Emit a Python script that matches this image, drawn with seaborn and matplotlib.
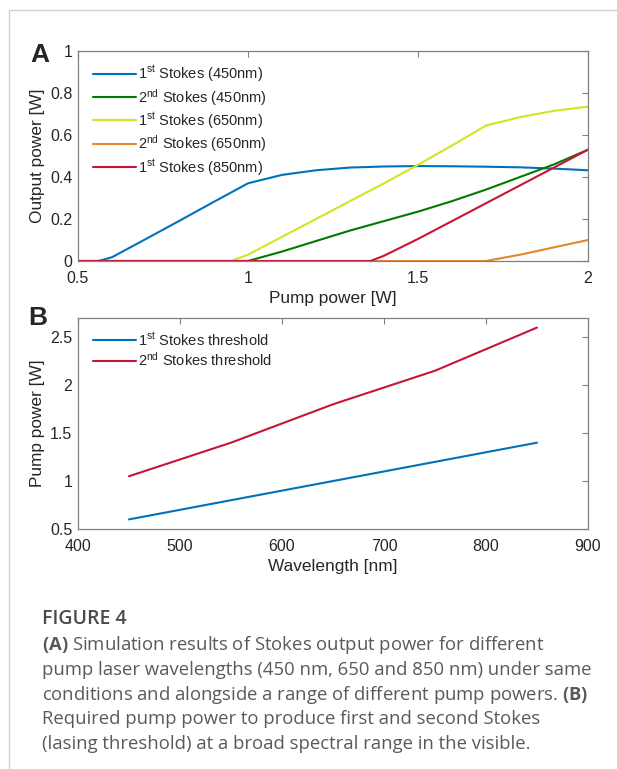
import numpy as np
import pandas as pd
import matplotlib
matplotlib.use("Agg")
import matplotlib.pyplot as plt
from matplotlib.lines import Line2D
from matplotlib.ticker import FuncFormatter
import seaborn as sns

# panel A: output power vs pump power
x_s1_450 = [0.5, 0.56, 0.6, 0.7, 0.8, 0.9, 1.0, 1.1, 1.2, 1.3, 1.4, 1.5, 1.6, 1.7, 1.8, 1.9, 2.0]
y_s1_450 = [0, 0, 0.018, 0.105, 0.193, 0.282, 0.37, 0.41, 0.432, 0.445, 0.45, 0.452, 0.451, 0.449, 0.446, 0.44, 0.432]
x_s2_450 = [0.5, 1.0, 1.1, 1.2, 1.3, 1.4, 1.5, 1.6, 1.7, 1.8, 1.9, 2.0]
y_s2_450 = [0, 0, 0.045, 0.095, 0.145, 0.19, 0.235, 0.285, 0.34, 0.4, 0.46, 0.53]
x_s1_650 = [0.5, 0.95, 1.0, 1.1, 1.2, 1.3, 1.4, 1.5, 1.6, 1.7, 1.8, 1.9, 2.0]
y_s1_650 = [0, 0, 0.03, 0.115, 0.2, 0.285, 0.37, 0.458, 0.55, 0.645, 0.685, 0.715, 0.735]
x_s2_650 = [0.5, 1.7, 1.8, 1.9, 2.0]
y_s2_650 = [0, 0, 0.03, 0.065, 0.1]
x_s1_850 = [0.5, 1.36, 1.4, 1.5, 1.6, 1.7, 1.8, 1.9, 2.0]
y_s1_850 = [0, 0, 0.025, 0.105, 0.19, 0.275, 0.36, 0.445, 0.53]

# panel B: threshold vs wavelength
wavelength = [450, 550, 650, 750, 850]
thr_1st = [0.6, 0.8, 1.0, 1.2, 1.4]
thr_2nd = [1.05, 1.4, 1.8, 2.15, 2.6]

c_blue = "#0072BD"
c_green = "#007A00"
c_yellow = "#D4E41E"
c_orange = "#E5862A"
c_red = "#C81438"

sns.set_theme(style="white")
plt.rcParams['font.family'] = ['Liberation Sans', 'DejaVu Sans']
plt.rcParams['mathtext.fontset'] = 'custom'
plt.rcParams['mathtext.rm'] = 'Liberation Sans'
plt.rcParams['mathtext.it'] = 'Liberation Sans:italic'
plt.rcParams['mathtext.bf'] = 'Open Sans:bold'

fig = plt.figure(figsize=(6.17, 7.69), dpi=100)
ax_a = fig.add_axes([0.1264, 0.6606, 0.8266, 0.2731])
ax_b = fig.add_axes([0.1264, 0.3121, 0.8266, 0.2744])

series_a = [
    (x_s1_450, y_s1_450, c_blue, r'1$^{\rm st}$ Stokes (450nm)'),
    (x_s2_450, y_s2_450, c_green, r'2$^{\rm nd}$ Stokes (450nm)'),
    (x_s1_650, y_s1_650, c_yellow, r'1$^{\rm st}$ Stokes (650nm)'),
    (x_s2_650, y_s2_650, c_orange, r'2$^{\rm nd}$ Stokes (650nm)'),
    (x_s1_850, y_s1_850, c_red, r'1$^{\rm st}$ Stokes (850nm)'),
]
for xs, ys, col, lab in series_a:
    sns.lineplot(x=xs, y=ys, ax=ax_a, color=col, label=lab, linewidth=1.5, sort=False)

sns.lineplot(x=wavelength, y=thr_1st, ax=ax_b, color=c_blue, linewidth=1.5,
             label=r'1$^{\rm st}$ Stokes threshold')
sns.lineplot(x=wavelength, y=thr_2nd, ax=ax_b, color=c_red, linewidth=1.5,
             label=r'2$^{\rm nd}$ Stokes threshold')

fmt = FuncFormatter(lambda v, p: f"{v:g}")

def style_axes(ax):
    for s in ax.spines.values():
        s.set_color("#808080")
        s.set_linewidth(0.9)
        s.set_visible(True)
    ax.tick_params(direction="in", length=4, width=0.8, color="#808080",
                   top=True, right=True, labelsize=11.5, labelcolor="#262626")
    ax.tick_params(axis="x", pad=7)
    ax.tick_params(axis="y", pad=4)
    ax.xaxis.set_major_formatter(fmt)
    ax.yaxis.set_major_formatter(fmt)
    ax.grid(False)

leg_kw = dict(loc="upper left", frameon=False, fontsize=10.5, handlelength=2.9,
              handletextpad=0.15, labelspacing=0.18, borderpad=0, borderaxespad=0)

ax_a.set_xlim(0.5, 2)
ax_a.set_ylim(0, 1)
ax_a.set_xticks([0.5, 1, 1.5, 2])
ax_a.set_yticks([0, 0.2, 0.4, 0.6, 0.8, 1])
style_axes(ax_a)
ax_a.set_xlabel("Pump power [W]", fontsize=12.4, color="#262626", labelpad=4)
ax_a.set_ylabel("Output power [W]", fontsize=12.4, color="#262626", labelpad=4)
ax_a.legend(bbox_to_anchor=(0.03, 0.94), **leg_kw)

ax_b.set_xlim(400, 900)
ax_b.set_ylim(0.5, 2.7)
ax_b.set_xticks([400, 500, 600, 700, 800, 900])
ax_b.set_yticks([0.5, 1, 1.5, 2, 2.5])
style_axes(ax_b)
ax_b.set_xlabel("Wavelength [nm]", fontsize=12.4, color="#262626", labelpad=4)
ax_b.set_ylabel("Pump power [W]", fontsize=12.4, color="#262626", labelpad=4)
ax_b.legend(bbox_to_anchor=(0.03, 0.94), **leg_kw)

# panel letters
fig.text(30 / 617, 1 - 55 / 769, "A", fontsize=19, fontweight="bold", va="center", ha="left")
fig.text(28 / 617, 1 - 318 / 769, "B", fontsize=19, fontweight="bold", va="center", ha="left")

# page frame
fig.add_artist(Line2D([9 / 617, 1], [1 - 10 / 769, 1 - 10 / 769], color="#d0d0d0", linewidth=1))
fig.add_artist(Line2D([9 / 617, 9 / 617], [0, 1 - 10 / 769], color="#d0d0d0", linewidth=1))

# caption
cap_x = 42 / 617
fig.text(cap_x, 1 - 619 / 769, "FIGURE 4", fontsize=14, family="Open Sans",
         fontweight="semibold", color="#4a4a4a", va="center", ha="left")
caption = [
    r"$\bf{(A)}$ Simulation results of Stokes output power for different",
    "pump laser wavelengths (450 nm, 650 and 850 nm) under same",
    r"conditions and alongside a range of different pump powers. $\bf{(B)}$",
    "Required pump power to produce first and second Stokes",
    "(lasing threshold) at a broad spectral range in the visible.",
]
cap_y = [645, 670, 695, 719, 744]
for line, yy in zip(caption, cap_y):
    fig.text(cap_x, 1 - yy / 769, line, fontsize=13.3, family="Open Sans",
             color="#5a5a5a", va="center", ha="left")

fig.savefig("out.png", dpi=100)
